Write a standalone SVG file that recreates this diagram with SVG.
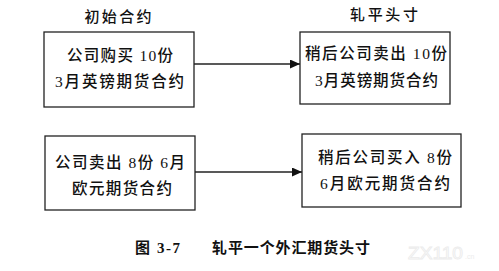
<svg xmlns="http://www.w3.org/2000/svg" width="499" height="271" viewBox="0 0 499 271">
<style>
.t{font-family:"Liberation Serif","Noto Sans CJK SC",serif;font-size:15.5px;fill:#111;text-anchor:middle;font-weight:500}
.h{font-family:"Noto Sans CJK SC",sans-serif;font-size:15px;fill:#111;text-anchor:middle;font-weight:500}
.b{fill:#fff;stroke:#222;stroke-width:1.3}
.c{stroke:#222;stroke-width:1.4;fill:none}
.cap{font-family:"Liberation Serif","Noto Sans CJK SC",serif;font-size:15px;font-weight:bold;fill:#111}
</style>
<defs>
<marker id="ah" viewBox="0 0 10 10" refX="10" refY="5" markerWidth="10" markerHeight="9" markerUnits="userSpaceOnUse" orient="auto" preserveAspectRatio="none">
<path d="M0,0 L10,5 L0,10 z" fill="#111"/>
</marker>
</defs>
<rect width="499" height="271" fill="#fff"/>
<text class="h" x="118" y="22" textLength="67" lengthAdjust="spacing">初始合约</text>
<text class="h" x="384" y="20" textLength="68" lengthAdjust="spacing">轧平头寸</text>
<g id="connectors">
<line class="c" x1="194" y1="64" x2="300" y2="64" marker-end="url(#ah)"/>
<line class="c" x1="195" y1="172" x2="302" y2="172" marker-end="url(#ah)"/>
</g>
<g id="n1">
<rect class="b" x="44" y="32" width="150" height="75"/>
<text class="t" x="120" y="61" textLength="106" lengthAdjust="spacing">公司购买 10份</text>
<text class="t" x="119.5" y="87" textLength="129" lengthAdjust="spacing">3月英镑期货合约</text>
</g>
<g id="n2">
<rect class="b" x="300" y="32" width="150" height="72"/>
<text class="t" x="376" y="59" textLength="142" lengthAdjust="spacing">稍后公司卖出 10份</text>
<text class="t" x="376.5" y="86" textLength="123" lengthAdjust="spacing">3月英镑期货合约</text>
</g>
<g id="n3">
<rect class="b" x="45" y="136" width="150" height="74"/>
<text class="t" x="120" y="168" textLength="130" lengthAdjust="spacing">公司卖出 8份 6月</text>
<text class="t" x="122" y="194" textLength="100" lengthAdjust="spacing">欧元期货合约</text>
</g>
<g id="n4">
<rect class="b" x="302" y="134" width="159" height="73"/>
<text class="t" x="385" y="163" textLength="134" lengthAdjust="spacing">稍后公司买入 8份</text>
<text class="t" x="385" y="189" textLength="130" lengthAdjust="spacing">6月欧元期货合约</text>
</g>
<text class="cap" x="135" y="253" textLength="45" lengthAdjust="spacing">图 3-7</text>
<text class="cap" x="212" y="253" textLength="158" lengthAdjust="spacing">轧平一个外汇期货头寸</text>
<text x="408" y="259" font-family="Liberation Sans, sans-serif" font-size="16" fill="none" stroke="#ececec" stroke-width="0.8" textLength="55" lengthAdjust="spacingAndGlyphs">ZX110</text>
<text x="465" y="259" font-family="Liberation Sans, sans-serif" font-size="7" fill="#ececec">.cn</text>
</svg>
